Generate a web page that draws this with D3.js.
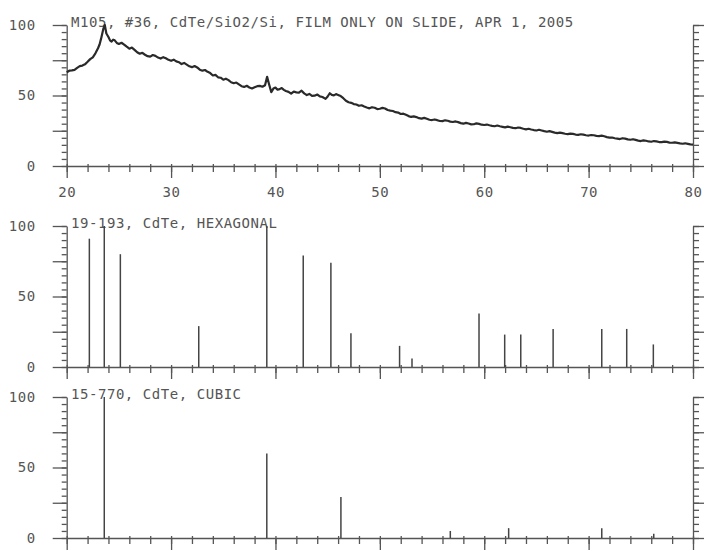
<!DOCTYPE html>
<html>
<head>
<meta charset="utf-8">
<script src="https://cdn.jsdelivr.net/npm/d3@7"></script>
<style>
  html, body { margin: 0; padding: 0; background: #fff; }
  svg { display: block; }
  text { font-family: "DejaVu Sans Mono", monospace; }
</style>
</head>
<body>
<svg id="chart" width="706" height="551"></svg>
<script>
// ---------------- data ----------------
const xTickLabels = [20, 30, 40, 50, 60, 70, 80];
const yTickLabels = [0, 50, 100];

const titleTop = "M105, #36, CdTe/SiO2/Si, FILM ONLY ON SLIDE, APR 1, 2005";
const titleHex = "19-193, CdTe, HEXAGONAL";
const titleCubic = "15-770, CdTe, CUBIC";

// measured pattern (2-theta, intensity)
const scanTheta = [20,20.25,20.5,20.75,21,21.25,21.5,21.75,22,22.25,22.5,22.75,23,23.15,23.3,23.5,23.65,23.8,24,24.15,24.3,24.45,24.6,24.8,25,25.25,25.5,25.75,26,26.25,26.5,26.75,27,27.25,27.5,27.75,28,28.25,28.5,28.75,29,29.25,29.5,29.75,30,30.25,30.5,30.75,31,31.25,31.5,31.75,32,32.25,32.5,32.75,33,33.25,33.5,33.75,34,34.25,34.5,34.75,35,35.25,35.5,35.75,36,36.25,36.5,36.75,37,37.25,37.5,37.75,38,38.25,38.5,38.75,39,39.2,39.4,39.6,39.8,40,40.2,40.4,40.6,40.8,41,41.25,41.5,41.75,42,42.25,42.5,42.75,43,43.25,43.5,43.75,44,44.25,44.5,44.8,45,45.2,45.4,45.6,45.8,46,46.25,46.5,46.75,47,47.25,47.5,47.75,48,48.25,48.5,48.75,49,49.25,49.5,49.75,50,50.25,50.5,50.75,51,51.25,51.5,51.75,52,52.25,52.5,52.75,53,53.25,53.5,53.75,54,54.25,54.5,54.75,55,55.25,55.5,55.75,56,56.25,56.5,56.75,57,57.25,57.5,57.75,58,58.25,58.5,58.75,59,59.25,59.5,59.75,60,60.25,60.5,60.75,61,61.25,61.5,61.75,62,62.25,62.5,62.75,63,63.25,63.5,63.75,64,64.25,64.5,64.75,65,65.25,65.5,65.75,66,66.25,66.5,66.75,67,67.25,67.5,67.75,68,68.25,68.5,68.75,69,69.25,69.5,69.75,70,70.25,70.5,70.75,71,71.25,71.5,71.75,72,72.25,72.5,72.75,73,73.25,73.5,73.75,74,74.25,74.5,74.75,75,75.25,75.5,75.75,76,76.25,76.5,76.75,77,77.25,77.5,77.75,78,78.25,78.5,78.75,79,79.25,79.5,79.75,80];
const scanIntensity = [66.5,67.6,67.8,68.2,69.6,70.8,71.2,72.1,73.9,75.8,77.1,79.9,83.5,86.2,90.5,97,100,94,91.5,89.1,88.2,89.6,89.1,87.3,86.6,87.4,86.1,84.6,83.2,84.0,82.4,80.7,79.6,80.3,78.9,77.9,77.6,78.7,78.1,76.9,76.2,77.2,76.4,75.3,74.6,75.4,74.2,73.6,72.3,73.1,71.9,70.7,70.1,70.9,69.9,68.3,67.6,68.1,66.8,65.9,64.2,64.6,62.9,62.6,61.2,61.9,60.9,59.4,58.7,59.2,57.9,56.6,56.1,56.9,55.7,55.0,55.9,56.6,56.8,56.2,57.3,63.2,57.6,52.4,54.9,55.6,54.1,54.5,55.3,54.0,53.2,52.6,51.3,52.8,52.2,52.0,53.4,51.5,50.3,51.1,49.8,49.9,50.7,49.4,48.9,47.6,49.3,51.6,50.4,50.1,51.0,50.4,49.6,48.1,46.3,45.2,44.8,43.9,43.6,42.7,43.1,42.2,41.5,40.9,41.7,41.3,40.4,40.6,41.2,40.8,39.7,39.3,39.0,38.2,37.9,36.9,37.1,36.3,35.4,34.8,35.2,34.7,33.9,33.6,34.1,33.5,32.8,32.6,33.0,32.5,31.9,31.8,32.4,32.1,31.5,31.2,31.6,31.1,30.4,30.0,30.6,30.1,29.5,29.6,30.2,29.9,29.3,29.1,29.4,28.9,28.5,28.2,28.7,28.2,27.8,27.4,27.9,27.5,27.0,26.8,27.3,27.0,26.4,26.0,26.4,25.9,25.5,25.2,25.7,25.2,24.7,24.3,24.7,24.2,23.7,23.3,23.7,23.3,22.9,22.6,23.0,22.8,22.3,22.1,22.5,22.2,21.8,21.6,22.0,21.8,21.4,21.2,21.5,21.1,20.5,20.1,20.2,19.7,19.4,19.1,19.7,19.4,18.9,18.6,19.0,18.5,18.0,17.7,18.2,17.9,17.4,17.2,17.7,17.5,17.0,16.9,17.3,17.1,16.6,16.5,16.8,16.4,16.0,15.8,16.1,15.7,15.3,15.2];

// reference card 19-193 hexagonal CdTe
const hexTheta = [22.17, 23.6, 25.14, 32.65, 39.17, 42.66, 45.31, 47.23, 51.89, 53.08, 59.5, 61.96, 63.5, 66.6, 71.26, 73.65, 76.2];
const hexIntensity = [91, 100, 80, 29, 100, 79, 74, 24, 15, 6, 38, 23, 23, 27, 27, 27, 16];

// reference card 15-770 cubic CdTe
const cubicTheta = [23.6, 39.17, 46.27, 56.75, 62.34, 71.26, 76.24];
const cubicIntensity = [100, 60, 29, 5, 7, 7, 3];

// ---------------- layout ----------------
const svg = d3.select("#chart");
const left = 66.7, right = 693;
const x = d3.scaleLinear().domain([20, 80]).range([left, right]);

const panels = [
  { y0: 166, y1: 25, title: titleTop, labels: true },
  { y0: 367, y1: 226, title: titleHex, labels: false },
  { y0: 538, y1: 397, title: titleCubic, labels: false }
];

const axisColor = "#555";
const textColor = "#555";
const fontSize = 14;
const letterSp = 0.55;

function styleAxis(g) {
  g.selectAll("path, line").attr("stroke", axisColor).attr("stroke-width", 1.3);
  g.selectAll("text").attr("fill", textColor)
    .attr("font-family", '"DejaVu Sans Mono", monospace')
    .attr("font-size", fontSize)
    .attr("letter-spacing", letterSp);
}

panels.forEach((p, i) => {
  const y = d3.scaleLinear().domain([0, 100]).range([p.y0, p.y1]);
  p.y = y;
  const g = svg.append("g");

  // bottom axis: minor (every 2) and major (every 10), small upward nubs
  g.append("g").attr("transform", `translate(0,${p.y0})`)
    .call(d3.axisBottom(x).tickValues(d3.range(20, 81, 2)).tickSize(6).tickSizeOuter(0).tickFormat(""))
    .call(styleAxis);
  g.append("g").attr("transform", `translate(0,${p.y0})`)
    .call(d3.axisTop(x).tickValues(d3.range(20, 81, 2)).tickSize(2).tickSizeOuter(0).tickFormat(""))
    .call(styleAxis).call(a => a.select(".domain").remove());
  const major = g.append("g").attr("transform", `translate(0,${p.y0})`)
    .call(d3.axisBottom(x).tickValues(xTickLabels).tickSize(12).tickSizeOuter(0).tickPadding(9)
      .tickFormat(p.labels ? d3.format("d") : ""))
    .call(styleAxis);
  major.select(".domain").remove();

  // left axis
  g.append("g").attr("transform", `translate(${left},0)`)
    .call(d3.axisLeft(y).tickValues(d3.range(0, 101, 5)).tickSize(5).tickSizeOuter(0).tickFormat(""))
    .call(styleAxis);
  g.append("g").attr("transform", `translate(${left},0)`)
    .call(d3.axisLeft(y).tickValues([0, 25, 50, 75, 100]).tickSize(14).tickSizeOuter(0).tickPadding(17)
      .tickFormat(d => yTickLabels.includes(d) ? d : ""))
    .call(styleAxis).call(a => a.select(".domain").remove());

  // right axis
  g.append("g").attr("transform", `translate(${right},0)`)
    .call(d3.axisRight(y).tickValues(d3.range(0, 101, 5)).tickSize(6).tickSizeOuter(0).tickFormat(""))
    .call(styleAxis);
  g.append("g").attr("transform", `translate(${right},0)`)
    .call(d3.axisRight(y).tickValues([0, 25, 50, 75, 100]).tickSize(11).tickSizeOuter(0).tickFormat(""))
    .call(styleAxis).call(a => a.select(".domain").remove());

  // title
  g.append("text")
    .attr("x", 71).attr("y", p.y1 + 2)
    .attr("fill", textColor)
    .attr("font-size", fontSize)
    .attr("letter-spacing", letterSp)
    .text(p.title);
});

// ---------------- marks ----------------
const scan = scanTheta.map((t, i) => [t, scanIntensity[i]]);
svg.append("path")
  .datum(scan)
  .attr("fill", "none")
  .attr("stroke", "#2a2a2a")
  .attr("stroke-width", 2.2)
  .attr("stroke-linejoin", "round")
  .attr("d", d3.line().x(d => x(d[0])).y(d => panels[0].y(d[1])));

function sticks(pos, inten, p) {
  svg.append("g").selectAll("line")
    .data(pos.map((t, i) => [t, inten[i]]))
    .join("line")
    .attr("x1", d => x(d[0])).attr("x2", d => x(d[0]))
    .attr("y1", p.y(0)).attr("y2", d => p.y(d[1]))
    .attr("stroke", "#444")
    .attr("stroke-width", 1.5);
}
sticks(hexTheta, hexIntensity, panels[1]);
sticks(cubicTheta, cubicIntensity, panels[2]);
</script>
</body>
</html>
